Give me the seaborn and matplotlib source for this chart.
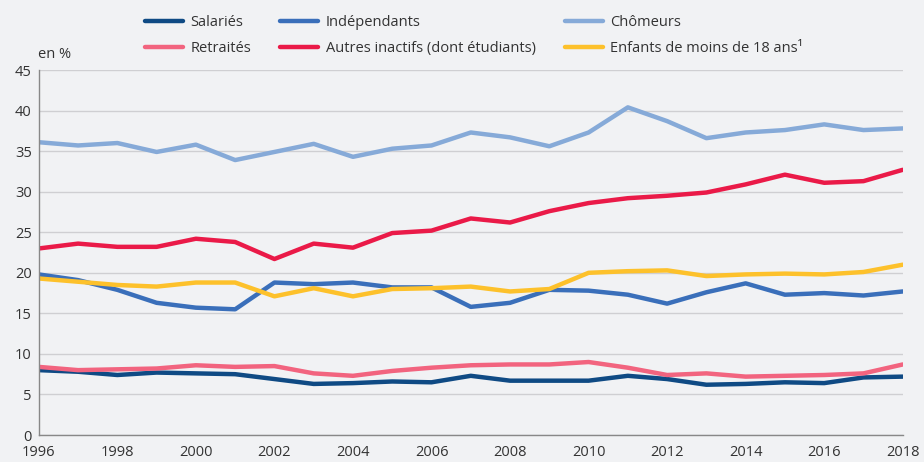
import numpy as np
import pandas as pd
import matplotlib
matplotlib.use("Agg")
import matplotlib.pyplot as plt
import seaborn as sns

years = list(range(1996, 2019))
salaries = [8.0, 7.8, 7.4, 7.7, 7.6, 7.5, 6.9, 6.3, 6.4, 6.6, 6.5, 7.3, 6.7, 6.7, 6.7, 7.3, 6.9, 6.2, 6.3, 6.5, 6.4, 7.1, 7.2]
independants = [19.8, 19.1, 17.9, 16.3, 15.7, 15.5, 18.8, 18.6, 18.8, 18.2, 18.2, 15.8, 16.3, 17.9, 17.8, 17.3, 16.2, 17.6, 18.7, 17.3, 17.5, 17.2, 17.7]
chomeurs = [36.1, 35.7, 36.0, 34.9, 35.8, 33.9, 34.9, 35.9, 34.3, 35.3, 35.7, 37.3, 36.7, 35.6, 37.3, 40.4, 38.7, 36.6, 37.3, 37.6, 38.3, 37.6, 37.8]
retraites = [8.4, 8.0, 8.1, 8.2, 8.6, 8.4, 8.5, 7.6, 7.3, 7.9, 8.3, 8.6, 8.7, 8.7, 9.0, 8.3, 7.4, 7.6, 7.2, 7.3, 7.4, 7.6, 8.7]
autres = [23.0, 23.6, 23.2, 23.2, 24.2, 23.8, 21.7, 23.6, 23.1, 24.9, 25.2, 26.7, 26.2, 27.6, 28.6, 29.2, 29.5, 29.9, 30.9, 32.1, 31.1, 31.3, 32.7]
enfants = [19.3, 18.9, 18.5, 18.3, 18.8, 18.8, 17.1, 18.1, 17.1, 18.0, 18.1, 18.3, 17.7, 18.0, 20.0, 20.2, 20.3, 19.6, 19.8, 19.9, 19.8, 20.1, 21.0]

labels = ["Salariés", "Retraités", "Indépendants", "Autres inactifs (dont étudiants)",
          "Chômeurs", "Enfants de moins de 18 ans¹"]
series = [salaries, retraites, independants, autres, chomeurs, enfants]
colors = ["#0f4a84", "#f2647f", "#3a6fba", "#ea1a48", "#86aad8", "#fdc12b"]

x_ticks = list(range(1996, 2019, 2))
y_ticks = list(range(0, 50, 5))

frames = [pd.DataFrame({"Année": years, "Valeur": vals, "Série": lab}) for lab, vals in zip(labels, series)]
df = pd.concat(frames, ignore_index=True)

sns.set_theme(style="white")
bg = "#f1f2f4"
plt.rcParams['font.family'] = ['Open Sans', 'DejaVu Sans']

fig = plt.figure(figsize=(9.24, 4.62), dpi=100, facecolor=bg)
ax = fig.add_axes([0.042, 0.0584, 0.935, 0.79])
ax.set_facecolor(bg)

sns.lineplot(data=df, x="Année", y="Valeur", hue="Série", hue_order=labels,
             palette=dict(zip(labels, colors)), linewidth=3.2, ax=ax, legend=False)

ax.set_xlim(1996, 2018)
ax.set_ylim(0, 45)
ax.set_xticks(x_ticks)
ax.set_yticks(y_ticks)
ax.tick_params(axis="both", length=0, labelsize=10.5, colors="#333333")
ax.tick_params(axis="x", pad=7)
ax.tick_params(axis="y", pad=5)
ax.set_xlabel("")
ax.set_ylabel("")
ax.grid(axis="y", color="#cfcfd2", linewidth=1)
ax.set_axisbelow(True)
for s in ["top", "right"]:
    ax.spines[s].set_visible(False)
ax.spines["left"].set_color("#888888")
ax.spines["left"].set_linewidth(1)
ax.spines["bottom"].set_color("#888888")
ax.spines["bottom"].set_linewidth(1)

fig.text(0.041, 1 - 55 / 462, "en %", fontsize=10.5, color="#333333", ha="left", va="center")

handles = [plt.Line2D([0], [0], color=c, lw=3.2) for c in colors]
fig.legend(handles, labels, ncol=3, loc="upper left", bbox_to_anchor=(0.143, 0.995),
           frameon=False, fontsize=10.5, handlelength=2.6, handletextpad=0.5,
           columnspacing=2.0, labelspacing=0.75, labelcolor="#333333")

fig.savefig("out.png", dpi=100, facecolor=bg)
